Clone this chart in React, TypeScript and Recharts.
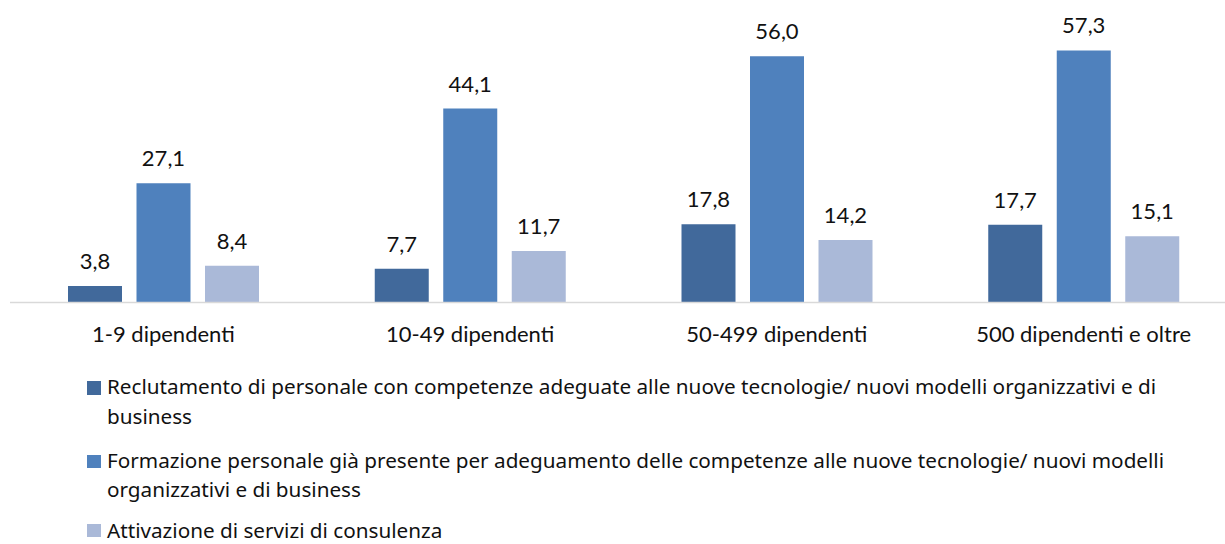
import React from "react";
import { BarChart, Bar, XAxis, YAxis, LabelList } from "recharts";

// Imprese per classe di addetti — azioni per adeguare le competenze (%)

const CATEGORIE = ["1-9 dipendenti", "10-49 dipendenti", "50-499 dipendenti", "500 dipendenti e oltre"];
const RECLUTAMENTO = [3.8, 7.7, 17.8, 17.7];
const FORMAZIONE = [27.1, 44.1, 56.0, 57.3];
const CONSULENZA = [8.4, 11.7, 14.2, 15.1];

const SERIE = [
  {
    key: "reclutamento",
    colore: "#41699b",
    righe: [
      "Reclutamento di personale con competenze adeguate alle nuove tecnologie/ nuovi modelli organizzativi e di",
      "business",
    ],
  },
  {
    key: "formazione",
    colore: "#4f81bd",
    righe: [
      "Formazione personale già presente per adeguamento delle competenze alle nuove tecnologie/ nuovi modelli",
      "organizzativi e di business",
    ],
  },
  {
    key: "consulenza",
    colore: "#aab9d8",
    righe: ["Attivazione di servizi di consulenza"],
  },
];

const FONT = "Lato, 'Noto Sans', sans-serif";
const FONT_LEGENDA = "'Noto Sans', 'Open Sans', sans-serif";

const dati = CATEGORIE.map((c, i) => ({
  categoria: c,
  reclutamento: RECLUTAMENTO[i],
  formazione: FORMAZIONE[i],
  consulenza: CONSULENZA[i],
}));

const formatta = (v: any) => Number(v).toFixed(1).replace(".", ",");

const TickCategoria = ({ x, y, payload }: any) => (
  <text x={x} y={y} dy={31.7} textAnchor="middle" fontFamily={FONT} fontSize={22} fill="#111">
    {payload.value}
  </text>
);

function Legenda() {
  return (
    <div
      style={{
        position: "absolute",
        left: 87,
        top: 372,
        fontFamily: FONT_LEGENDA,
        fontSize: 20.7,
        color: "#111",
        whiteSpace: "nowrap",
      }}
    >
      {SERIE.map((s, k) => {
        const ultima = k === SERIE.length - 1;
        // l'ultima voce ha interlinea stretta per restare dentro il riquadro
        return (
          <div
            key={s.key}
            style={{
              position: "relative",
              paddingLeft: 20,
              marginBottom: ultima ? 0 : 14.5,
              marginTop: ultima ? 15 : 0,
              lineHeight: ultima ? "20px" : "29.5px",
            }}
          >
            <span
              style={{
                position: "absolute",
                left: 0,
                top: ultima ? 4.2 : 9,
                width: 13.5,
                height: 13.5,
                background: s.colore,
              }}
            />
            {s.righe.map((r, i) => (
              <div key={i}>{r}</div>
            ))}
          </div>
        );
      })}
    </div>
  );
}

export default function App() {
  return (
    <div
      style={{
        position: "absolute",
        left: 0,
        top: 0,
        width: 1225,
        height: 544,
        overflow: "hidden",
        background: "#fff",
      }}
    >
      <BarChart
        width={1240}
        height={360}
        data={dati}
        margin={{ top: 38.6, right: 3, bottom: 0, left: 10 }}
        barSize={54}
        barGap={14.5}
      >
        <XAxis
          dataKey="categoria"
          height={57.4}
          axisLine={{ stroke: "#d9d9d9", strokeWidth: 1.5 }}
          tickLine={false}
          tick={<TickCategoria />}
          interval={0}
        />
        <YAxis hide domain={[0, 60]} />
        {SERIE.map((s) => (
          <Bar key={s.key} dataKey={s.key} fill={s.colore} isAnimationActive={false}>
            <LabelList
              dataKey={s.key}
              position="top"
              offset={17}
              formatter={formatta}
              style={{ fontFamily: FONT, fontSize: 22, fill: "#111" }}
            />
          </Bar>
        ))}
      </BarChart>
      <Legenda />
    </div>
  );
}
